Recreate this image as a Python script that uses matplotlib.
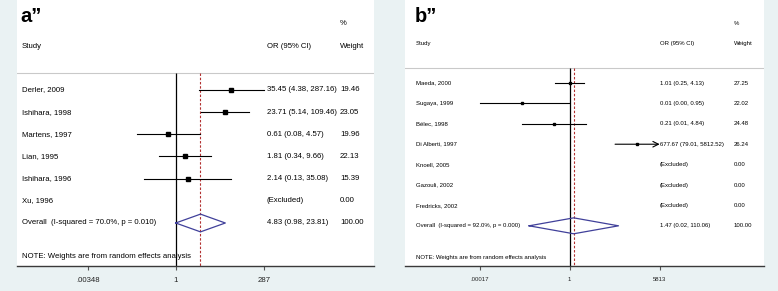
import numpy as np
import matplotlib
matplotlib.use("Agg")
import matplotlib.pyplot as plt
from matplotlib import font_manager as fm

# ---------------- data ----------------
a_studies = ["Derler, 2009", "Ishihara, 1998", "Martens, 1997", "Lian, 1995",
             "Ishihara, 1996", "Xu, 1996"]
a_or = [35.45, 23.71, 0.61, 1.81, 2.14, None]
a_lo = [4.38, 5.14, 0.08, 0.34, 0.13, None]
a_hi = [287.16, 109.46, 4.57, 9.66, 35.08, None]
a_weight = [19.46, 23.05, 19.96, 22.13, 15.39, 0.00]
a_overall = [4.83, 0.98, 23.81]
a_het = "Overall  (I-squared = 70.0%, p = 0.010)"
a_ticks = [0.00348, 1, 287]
a_ticklabels = [".00348", "1", "287"]

b_studies = ["Maeda, 2000", "Sugaya, 1999", "Bélec, 1998", "Di Alberti, 1997",
             "Knoell, 2005", "Gazouli, 2002", "Fredricks, 2002"]
b_or = [1.01, 0.01, 0.21, 677.67, None, None, None]
b_lo = [0.25, 0.00017, 0.01, 79.01, None, None, None]
b_hi = [4.13, 0.95, 4.84, 5812.52, None, None, None]
b_weight = [27.25, 22.02, 24.48, 26.24, 0.00, 0.00, 0.00]
b_overall = [1.47, 0.02, 110.06]
b_het = "Overall  (I-squared = 92.0%, p = 0.000)"
b_ticks = [0.00017, 1, 5813]
b_ticklabels = [".00017", "1", "5813"]
b_arrow = [False, False, False, True, False, False, False]

note = "NOTE: Weights are from random effects analysis"

# ---------------- style ----------------
names = {f.name for f in fm.fontManager.ttflist}
if "Liberation Sans Narrow" in names:
    body = "Liberation Sans Narrow"
    fs_a, fs_b = 6.5, 4.9
else:
    body = "Liberation Sans"
    fs_a, fs_b = 5.6, 4.3
bold_font = "Liberation Sans"

BG = "#EAF2F3"
DIAMOND = "#40409a"
RED = "#b23030"

W, H = 778, 291
fig = plt.figure(figsize=(W / 100, H / 100), dpi=100, facecolor=BG)


def make_panel(px0, px1, ax_bottom_px, ylim, letter, studies, ors, los, his, weights,
               overall, het, ticks, ticklabels, fs, rows, cols, diamond_h, ms, arrows=None):
    ax = fig.add_axes([px0 / W, (H - ax_bottom_px) / H, (px1 - px0) / W, ax_bottom_px / H])
    ax.set_facecolor("white")
    ax.set_xscale("log")
    ax.set_xlim(*cols["xlim"])
    ax.set_ylim(*ylim)
    for s in ("top", "left", "right"):
        ax.spines[s].set_visible(False)
    ax.spines["bottom"].set_color("#3a3a3a")
    ax.spines["bottom"].set_linewidth(1.0)
    ax.set_yticks([])
    ax.set_xticks(ticks)
    ax.set_xticklabels(ticklabels, fontsize=fs, family=body, color="#222222")
    ax.minorticks_off()
    ax.tick_params(axis="x", direction="out", length=3, width=0.8, color="#555555", pad=cols["pad"])

    tr = ax.get_yaxis_transform()  # x in axes fraction, y in data
    sep = rows["sep"]
    bottom = ylim[0]
    # header
    ax.text(cols["study"] - 0.004, rows["letter"], letter, transform=tr, fontsize=14.5,
            fontweight="bold", family=bold_font, va="baseline", ha="left")
    ax.text(cols["weight"], rows["pct"], "%", transform=tr, fontsize=fs, family=body, va="center")
    ax.text(cols["study"], rows["head"], "Study", transform=tr, fontsize=fs, family=body, va="center")
    ax.text(cols["or"], rows["head"], "OR (95% CI)", transform=tr, fontsize=fs, family=body, va="center")
    ax.text(cols["weight"], rows["head"], "Weight", transform=tr, fontsize=fs, family=body, va="center")
    ax.axhline(sep, color="#c9c9c9", lw=0.8)

    # reference lines
    ax.vlines(1, sep, bottom, color="black", lw=0.9, zorder=2)
    ax.vlines(overall[0], sep, bottom, color=RED, lw=0.8, linestyles=(0, (2.2, 1.6)), zorder=2)

    for i, name in enumerate(studies):
        ax.text(cols["study"], i, name, transform=tr, fontsize=fs, family=body, va="center")
        if ors[i] is None:
            txt = "(Excluded)"
        else:
            txt = f"{ors[i]:.2f} ({los[i]:.2f}, {his[i]:.2f})"
            if arrows is not None and arrows[i]:
                ax.annotate("", xy=(his[i], i), xytext=(los[i], i),
                            arrowprops=dict(arrowstyle="->", lw=0.8, color="black",
                                            shrinkA=0, shrinkB=0, mutation_scale=10))
            else:
                ax.plot([los[i], his[i]], [i, i], color="black", lw=0.8, zorder=3)
            ax.plot([ors[i]], [i], marker="s", ms=ms, color="black", zorder=4)
        ax.text(cols["or"], i, txt, transform=tr, fontsize=fs, family=body, va="center")
        ax.text(cols["weight"], i, f"{weights[i]:.2f}", transform=tr, fontsize=fs, family=body, va="center")

    yo = len(studies)
    est, lo, hi = overall
    ax.plot([lo, est, hi, est, lo], [yo, yo - diamond_h, yo, yo + diamond_h, yo],
            color=DIAMOND, lw=0.9, zorder=3)
    ax.text(cols["study"], yo, het, transform=tr, fontsize=fs, family=body, va="center")
    ax.text(cols["or"], yo, f"{est:.2f} ({lo:.2f}, {hi:.2f})", transform=tr, fontsize=fs,
            family=body, va="center")
    ax.text(cols["weight"], yo, "100.00", transform=tr, fontsize=fs, family=body, va="center")
    ax.text(cols["study"], rows["note"], note, transform=tr, fontsize=fs, family=body, va="center")
    return ax


# left panel: pixel row 90 is row 0, 22.17 px per row
make_panel(17, 374, 266, (7.94, -4.06), "a\u201d", a_studies, a_or, a_lo, a_hi, a_weight,
           a_overall, a_het, a_ticks, a_ticklabels, fs_a,
           rows=dict(letter=-3.07, pct=-2.98, head=-1.94, sep=-0.77, note=7.53),
           cols={"xlim": (3.62e-5, 3.39e5), "study": 0.014, "or": 0.700, "weight": 0.905,
                 "pad": 5},
           diamond_h=0.4, ms=2.2)

# right panel: pixel row 83 is row 0, 20.4 px per row
make_panel(405, 764, 266, (8.97, -4.07), "b\u201d", b_studies, b_or, b_lo, b_hi, b_weight,
           b_overall, b_het, b_ticks, b_ticklabels, fs_b,
           rows=dict(letter=-2.99, pct=-2.94, head=-1.96, sep=-0.74, note=8.53),
           cols={"xlim": (1.28e-7, 1.35e8), "study": 0.031, "or": 0.710, "weight": 0.915,
                 "pad": 5},
           diamond_h=0.39, ms=1.9, arrows=b_arrow)

fig.savefig("out.png", dpi=100, facecolor=BG)
